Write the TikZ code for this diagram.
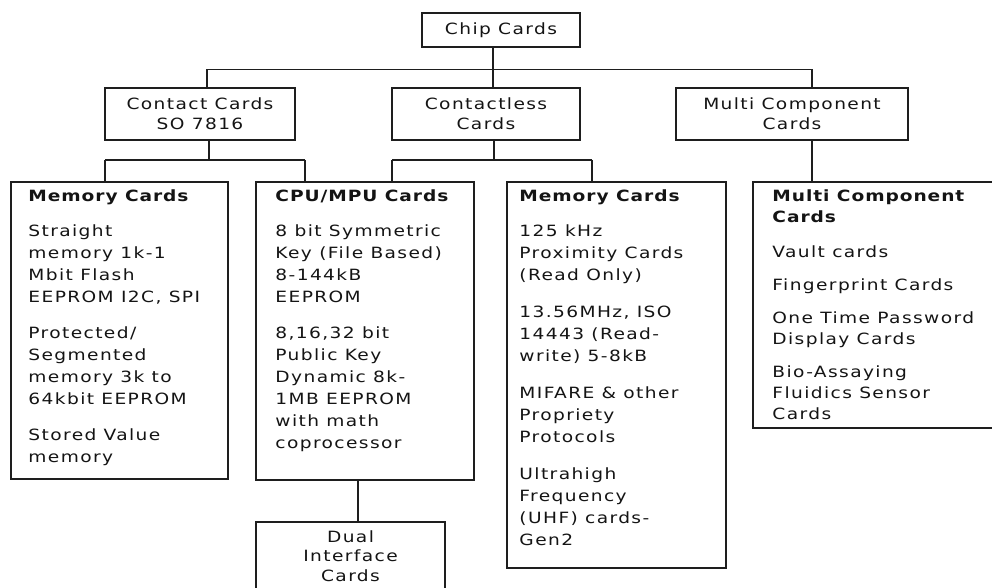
\documentclass[tikz,border=0pt]{standalone}
\usepackage{fontspec}
\setmainfont{DejaVu Sans}[FakeStretch=1.2, LetterSpace=9, BoldFeatures={LetterSpace=6}]
\definecolor{linec}{HTML}{1E1E1E}
\definecolor{txtc}{HTML}{141414}
\begin{document}
\begin{tikzpicture}[x=1pt,y=-1pt,
  box/.style={draw=linec, line width=1.5pt, fill=none, inner sep=0pt, rectangle},
  head/.style={align=center, inner sep=0pt, text=txtc, font=\fontsize{15.5}{20}\selectfont},
  body/.style={align=left, inner sep=0pt, anchor=north west, text=txtc, font=\fontsize{15.5}{22}\selectfont},
  conn/.style={draw=linec, line width=1.5pt}]
\useasboundingbox (0,0) rectangle (992,588);
\clip (0,0) rectangle (992,588);
% boxes
\node[box, minimum width=158pt, minimum height=34pt] (chip) at (501,30) {};
\node[box, minimum width=190pt, minimum height=52pt] (contact) at (200,114) {};
\node[box, minimum width=188pt, minimum height=52pt] (contactless) at (486,114) {};
\node[box, minimum width=232pt, minimum height=52pt] (multi) at (792,114) {};
\node[box, minimum width=217pt, minimum height=297pt] (mem1) at (119.5,330.5) {};
\node[box, minimum width=218pt, minimum height=298pt] (cpu) at (365,331) {};
\node[box, minimum width=219pt, minimum height=386pt] (mem2) at (616.5,375) {};
\node[box, minimum width=250pt, minimum height=246pt] (multi2) at (878,305) {};
\node[box, minimum width=189pt, minimum height=78pt] (dual) at (350.5,561) {};
% labels
\node[head] (tchip) at (chip.center) {Chip Cards};
\node[head] (tcontact) at (contact.center) {Contact Cards\\SO 7816};
\node[head] (tcontactless) at (contactless.center) {Contactless\\Cards};
\node[head] (tmulti) at (multi.center) {Multi Component\\Cards};
\node[head, anchor=north, font=\fontsize{15.5}{19.5}\selectfont] (tdual) at ([yshift=-9pt]dual.north) {Dual\\Interface\\Cards};
\node[body] (tmem1) at ([xshift=18pt,yshift=-8pt]mem1.north west)
  {\textbf{Memory Cards}\\[13pt]
   Straight\\memory 1k-1\\Mbit Flash\\EEPROM I2C, SPI\\[14pt]
   Protected/\\Segmented\\memory 3k to\\64kbit EEPROM\\[14pt]
   Stored Value\\memory};
\node[body] (tcpu) at ([xshift=20pt,yshift=-8pt]cpu.north west)
  {\textbf{CPU/MPU Cards}\\[13pt]
   8 bit Symmetric\\Key (File Based)\\8-144kB\\EEPROM\\[14pt]
   8,16,32 bit\\Public Key\\Dynamic 8k-\\1MB EEPROM\\with math\\coprocessor};
\node[body] (tmem2) at ([xshift=13pt,yshift=-8pt]mem2.north west)
  {\textbf{Memory Cards}\\[13pt]
   125 kHz\\Proximity Cards\\(Read Only)\\[15pt]
   13.56MHz, ISO\\14443 (Read-\\write) 5-8kB\\[15pt]
   MIFARE \& other\\Propriety\\Protocols\\[15pt]
   Ultrahigh\\Frequency\\(UHF) cards-\\Gen2};
\node[body, font=\fontsize{15.5}{21}\selectfont] (tmulti2) at ([xshift=20pt,yshift=-8pt]multi2.north west)
  {\textbf{Multi Component}\\\textbf{Cards}\\[14pt]
   Vault cards\\[12pt]
   Fingerprint Cards\\[12pt]
   One Time Password\\Display Cards\\[12pt]
   Bio-Assaying\\Fluidics Sensor\\Cards};
% connectors level 1
\coordinate (j0) at (493,69.5);
\coordinate (busL) at (207,69.5);
\coordinate (busR) at (812,69.5);
\draw[conn] (chip.south -| j0) -- (j0);
\draw[conn] (busL) -- (busR);
\draw[conn] (busL) -- (contact.north -| busL);
\draw[conn] (j0) -- (contactless.north -| j0);
\draw[conn] (busR) -- (multi.north -| busR);
% connectors level 2 (contact)
\coordinate (cj) at (209,160);
\coordinate (cL) at (105,160);
\coordinate (cR) at (305,160);
\draw[conn] (contact.south -| cj) -- (cj);
\draw[conn] (cL) -- (cR);
\draw[conn] (cL) -- (mem1.north -| cL);
\draw[conn] (cR) -- (cpu.north -| cR);
% connectors level 2 (contactless)
\coordinate (lj) at (494,160);
\coordinate (lL) at (392,160);
\coordinate (lR) at (592,160);
\draw[conn] (contactless.south -| lj) -- (lj);
\draw[conn] (lL) -- (lR);
\draw[conn] (lL) -- (cpu.north -| lL);
\draw[conn] (lR) -- (mem2.north -| lR);
% multi
\draw[conn] (multi.south -| busR) -- (multi2.north -| busR);
% dual
\coordinate (dj) at (358,500);
\draw[conn] (cpu.south -| dj) -- (dual.north -| dj);
\end{tikzpicture}
\end{document}
